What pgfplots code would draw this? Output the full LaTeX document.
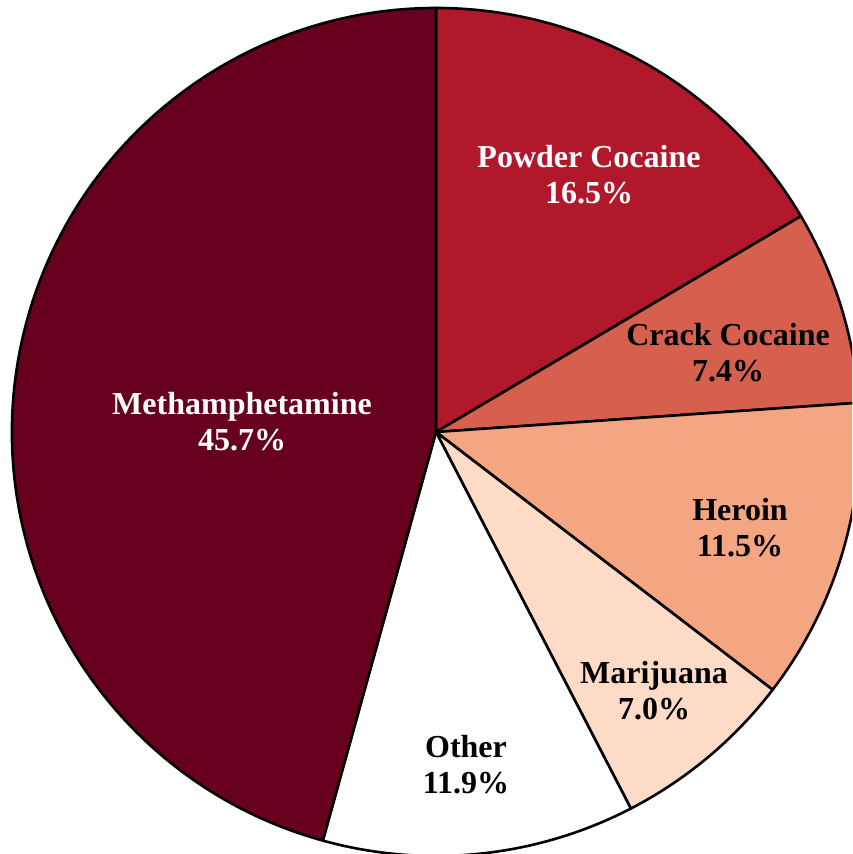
\documentclass[border=0pt]{standalone}
\usepackage{pgfplots}
\pgfplotsset{compat=1.18}
\usepackage{fontspec}
\setmainfont{Liberation Serif}
\definecolor{cMeth}{HTML}{67001F}
\definecolor{cPow}{HTML}{B2182B}
\definecolor{cCrack}{HTML}{D6604D}
\definecolor{cHer}{HTML}{F4A582}
\definecolor{cMar}{HTML}{FDDBC7}
\begin{document}
\begin{tikzpicture}
\begin{axis}[
  width=426pt, height=427pt, scale only axis,
  xmin=-436, xmax=416, ymin=-422, ymax=432,
  hide axis, clip=true, clip mode=global,
]
\addplot[draw=none, forget plot] coordinates {(0,0)};
\gdef\acc{90}
\foreach \v/\c in {16.5/cPow,7.4/cCrack,11.5/cHer,7.0/cMar,11.9/white,45.7/cMeth}{
  \pgfmathsetmacro\e{\acc-3.6*\v}
  \edef\temp{\noexpand\filldraw[fill=\c, draw=black, line width=1.3pt, line join=round]
    (axis cs:0,0) -- ++(\acc:212pt) arc[start angle=\acc, end angle=\e, radius=212pt] -- cycle;}
  \temp
  \global\let\acc\e
}
\tikzset{lbl/.style={align=center, font=\bfseries\fontsize{16}{18}\selectfont, inner sep=0pt}}
\node[lbl, text=white] at (axis cs:153,257) {Powder Cocaine\\16.5\%};
\node[lbl] at (axis cs:292,79) {Crack Cocaine\\7.4\%};
\node[lbl] at (axis cs:304,-96) {Heroin\\11.5\%};
\node[lbl] at (axis cs:218,-259) {Marijuana\\7.0\%};
\node[lbl] at (axis cs:30,-333) {Other\\11.9\%};
\node[lbl, text=white] at (axis cs:-194,10) {Methamphetamine\\45.7\%};
\end{axis}
\pgfresetboundingbox
\path (current axis.south west) rectangle (current axis.north east);
\end{tikzpicture}
\end{document}
